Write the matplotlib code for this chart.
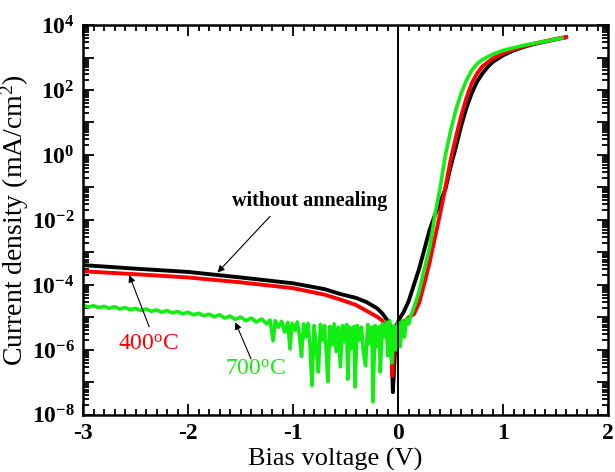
import matplotlib.pyplot as plt
import numpy as np
from matplotlib.ticker import MultipleLocator, LogLocator, FuncFormatter, NullFormatter

plt.rcParams['font.family'] = 'Liberation Serif'
plt.rcParams['font.weight'] = 'bold'
plt.rcParams['mathtext.default'] = 'regular'

# J-V data, log10 of current density (mA/cm^2)
black_v = [-3.0, -2.5, -2.0, -1.5, -1.0, -0.7, -0.55, -0.4, -0.3, -0.2,
           -0.15, -0.1, -0.07, -0.05, -0.03, -0.01, 0.02, 0.05, 0.1, 0.15,
           0.2, 0.25, 0.3, 0.35, 0.4, 0.45, 0.5, 0.55, 0.6, 0.65,
           0.7, 0.75, 0.8, 0.85, 0.9, 1.0, 1.1, 1.2, 1.3, 1.4, 1.5, 1.58]
black_logj = [-3.39, -3.5, -3.6, -3.77, -3.95, -4.13, -4.28, -4.4, -4.53, -4.72,
              -4.88, -5.1, -5.3, -7.3, -6.0, -5.2, -5.0, -4.85, -4.5, -4.0,
              -3.5, -2.9, -2.3, -1.85, -1.45, -1.05, -0.35, 0.25, 0.9, 1.45,
              1.9, 2.25, 2.5, 2.7, 2.86, 3.07, 3.22, 3.33, 3.42, 3.49, 3.56, 3.61]

red_v = [-3.0, -2.5, -2.0, -1.5, -1.0, -0.7, -0.55, -0.4, -0.3, -0.2,
         -0.15, -0.12, -0.1, -0.07, -0.055, -0.04, -0.02, 0.0, 0.05, 0.1,
         0.15, 0.2, 0.25, 0.3, 0.35, 0.4, 0.45, 0.5, 0.55, 0.6,
         0.65, 0.7, 0.75, 0.8, 0.9, 1.0, 1.1, 1.2, 1.3, 1.4, 1.5, 1.6]
red_logj = [-3.58, -3.67, -3.77, -3.92, -4.1, -4.3, -4.45, -4.62, -4.8, -4.98,
            -5.1, -5.3, -5.2, -5.45, -6.8, -5.9, -5.3, -5.2, -5.15, -5.0,
            -4.9, -4.55, -3.95, -3.3, -2.55, -1.8, -1.0, -0.15, 0.55, 1.2,
            1.75, 2.2, 2.5, 2.72, 2.97, 3.13, 3.25, 3.35, 3.43, 3.5, 3.57, 3.63]

green_v = [-3.00, -2.95, -2.90, -2.85, -2.80, -2.75, -2.70, -2.65, -2.60, -2.55,
           -2.50, -2.45, -2.40, -2.35, -2.30, -2.25, -2.20, -2.15, -2.10, -2.05,
           -2.00, -1.95, -1.90, -1.85, -1.80, -1.75, -1.70, -1.65, -1.60, -1.55,
           -1.50, -1.45, -1.40, -1.35, -1.30, -1.25,
           -1.22, -1.19, -1.17, -1.14, -1.11, -1.08, -1.05, -1.03, -1.01, -0.98,
           -0.96, -0.94, -0.92, -0.90, -0.88, -0.86, -0.84, -0.82, -0.80, -0.78,
           -0.76, -0.74, -0.72, -0.70, -0.68, -0.67, -0.65, -0.63, -0.61, -0.59,
           -0.57, -0.55, -0.53, -0.51, -0.49, -0.48, -0.46, -0.44, -0.42, -0.41,
           -0.39, -0.37, -0.35, -0.33, -0.31, -0.29, -0.27, -0.25, -0.24, -0.22,
           -0.20, -0.18, -0.17, -0.15, -0.13, -0.11, -0.10, -0.08, -0.06, -0.04,
           -0.02, 0.00, 0.02, 0.04, 0.06, 0.08, 0.10,
           0.12, 0.15, 0.2, 0.25, 0.3, 0.35, 0.4, 0.45, 0.5, 0.55,
           0.6, 0.65, 0.7, 0.75, 0.8, 0.9, 1.0, 1.1, 1.2, 1.3,
           1.4, 1.5, 1.56]
green_logj = [-4.62, -4.68, -4.64, -4.70, -4.66, -4.72, -4.67, -4.74, -4.70, -4.76,
              -4.72, -4.79, -4.74, -4.81, -4.77, -4.84, -4.79, -4.86, -4.82, -4.89,
              -4.84, -4.92, -4.87, -4.95, -4.90, -4.98, -4.92, -5.02, -4.96, -5.06,
              -4.99, -5.10, -5.02, -5.14, -5.05, -5.20,
              -5.08, -5.72, -5.10, -5.30, -5.12, -5.45, -5.15, -5.97, -5.18, -5.40,
              -5.14, -5.55, -6.20, -5.20, -5.60, -5.18, -5.80, -7.10, -5.25, -5.90,
              -6.68, -5.22, -5.70, -5.25, -6.30, -6.98, -5.28, -5.85, -5.20, -6.05,
              -5.30, -6.52, -5.25, -5.75, -5.22, -6.90, -5.30, -5.95, -5.28, -7.14,
              -5.25, -5.70, -5.30, -6.10, -6.49, -5.22, -5.80, -5.30, -7.60, -5.25,
              -5.90, -5.28, -6.68, -5.20, -5.60, -5.15, -6.18, -5.10, -6.40, -5.25,
              -6.00, -5.15, -5.90, -5.10, -5.60, -5.05, -5.20,
              -4.95, -4.7, -4.2, -3.5, -2.85, -1.85, -1.0, 0.0, 0.75, 1.4,
              1.9, 2.3, 2.6, 2.8, 2.93, 3.1, 3.22, 3.3, 3.38, 3.44,
              3.5, 3.56, 3.6]

fig = plt.figure(figsize=(6.15, 4.72), dpi=100)
ax = fig.add_axes([0.135, 0.121, 0.854, 0.826])

ax.plot(black_v, 10 ** np.array(black_logj), color='black', lw=2.8)
ax.plot(red_v, 10 ** np.array(red_logj), color='#ff0000', lw=2.8)
ax.plot(green_v, 10 ** np.array(green_logj), color='#11ee11', lw=2.6)
ax.axvline(0, color='black', lw=1.4)

ax.set_yscale('log')
ax.set_xlim(-3, 2)
ax.set_ylim(1e-8, 1e4)

ax.xaxis.set_major_locator(MultipleLocator(1))
ax.xaxis.set_minor_locator(MultipleLocator(0.1))
ax.yaxis.set_major_locator(LogLocator(base=10, numticks=20))
ax.yaxis.set_minor_locator(LogLocator(base=10, subs=np.arange(2, 10), numticks=20))
ax.yaxis.set_minor_formatter(NullFormatter())


def ylab(v, pos):
    e = int(round(np.log10(v)))
    return f'$10^{{{e}}}$' if e % 2 == 0 else ''


ax.yaxis.set_major_formatter(FuncFormatter(ylab))
ax.xaxis.set_major_formatter(FuncFormatter(lambda v, p: f'{v:g}'))

ax.tick_params(which='both', direction='in', top=True, right=True, labelsize=17, width=1.3)
ax.tick_params(which='major', length=8)
ax.tick_params(which='minor', length=4)
ax.tick_params(axis='y', pad=6)
ax.tick_params(axis='x', pad=6)
for s in ax.spines.values():
    s.set_linewidth(1.8)

ax.set_xlabel('Bias voltage (V)', fontsize=19, fontweight='normal', labelpad=3)
ax.xaxis.set_label_coords(0.48, -0.085)
ax.set_ylabel('Current density (mA/cm$^2$)', fontsize=20, fontweight='normal')
ax.yaxis.set_label_coords(-0.099, 0.5)

arrow = dict(arrowstyle='-|>', color='black', lw=0.8, mutation_scale=10,
             shrinkA=0, shrinkB=0)
ax.annotate('', xy=(-1.72, 10 ** -3.62), xytext=(-1.22, 10 ** -1.89), arrowprops=arrow)
ax.annotate('', xy=(-2.56, 10 ** -3.70), xytext=(-2.37, 10 ** -5.29), arrowprops=arrow)
ax.annotate('', xy=(-1.55, 10 ** -5.15), xytext=(-1.40, 10 ** -6.28), arrowprops=arrow)

ax.text(-0.84, 10 ** -1.43, 'without annealing', fontsize=14.5, fontweight='bold',
        ha='center', va='center')
ax.text(-2.38, 10 ** -5.82, '400$^{o}$C', fontsize=17, fontweight='normal',
        color='#ff0000', ha='center', va='center')
ax.text(-1.36, 10 ** -6.58, '700$^{o}$C', fontsize=17, fontweight='normal',
        color='#11ee11', ha='center', va='center')

fig.savefig('out.png', dpi=100)
